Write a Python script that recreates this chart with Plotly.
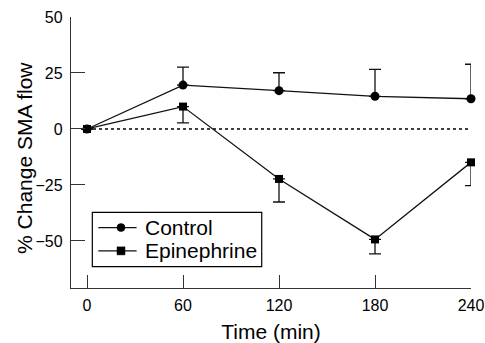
import plotly.graph_objects as go

times = [0, 60, 120, 180, 240]
control = [0, 19.6, 17.1, 14.6, 13.5]
control_err = [0, 8.0, 8.0, 12.0, 15.4]
epi = [0, 10.0, -22.3, -49.3, -14.9]
epi_err = [0, 7.3, 10.3, 6.5, 10.4]
x_ticks = [0, 60, 120, 180, 240]
y_ticks = [-50, -25, 0, 25, 50]
series_names = ["Control", "Epinephrine"]

FONT = "Liberation Sans, Arial, sans-serif"
INK = "#111"

fig = go.Figure()
fig.add_trace(go.Scatter(
    x=[times[0], times[-1]], y=[0, 0], mode="lines",
    line=dict(color="black", width=1.5, dash="dot"),
    showlegend=False, hoverinfo="skip", cliponaxis=False))
fig.add_trace(go.Scatter(
    x=times, y=control, name=series_names[0], mode="lines+markers",
    line=dict(color=INK, width=1.3), cliponaxis=False, showlegend=False,
    marker=dict(symbol="circle", size=9, color="black"),
    error_y=dict(type="data", symmetric=False, array=control_err,
                 arrayminus=[0]*5, color=INK, thickness=1.3, width=6)))
fig.add_trace(go.Scatter(
    x=times, y=epi, name=series_names[1], mode="lines+markers",
    line=dict(color=INK, width=1.3), cliponaxis=False, showlegend=False,
    marker=dict(symbol="square", size=8, color="black"),
    error_y=dict(type="data", symmetric=False, array=[0]*5,
                 arrayminus=epi_err, color=INK, thickness=1.3, width=6)))

# manual legend (paper coordinates)
shapes = [
    dict(type="rect", xref="paper", yref="paper", x0=0.0533, x1=0.4768,
         y0=0.0786, y1=0.2793, line=dict(color="black", width=1.2),
         fillcolor="white", layer="above"),
]
annotations = []
rows_y = [0.2230, 0.1370]
for name, yy, sym in zip(series_names, rows_y, ["circle", "rect"]):
    shapes.append(dict(type="line", xref="paper", yref="paper",
                       x0=0.0683, x1=0.164, y0=yy, y1=yy,
                       line=dict(color=INK, width=1.3), layer="above"))
    shapes.append(dict(type=sym, xref="paper", yref="paper",
                       xsizemode="pixel", ysizemode="pixel",
                       xanchor=0.125, yanchor=yy,
                       x0=-4, x1=4, y0=-4, y1=4,
                       line=dict(color="black", width=0.5),
                       fillcolor="black", layer="above"))
    annotations.append(dict(text=name, xref="paper", yref="paper",
                            x=0.182, y=yy, xanchor="left", yanchor="middle",
                            showarrow=False, borderpad=0,
                            font=dict(size=21, family=FONT)))

# y-axis title
annotations.append(dict(text="% Change SMA flow", xref="paper", yref="paper",
                        x=-0.115, y=0.48, xanchor="center", yanchor="middle",
                        textangle=-90, showarrow=False, borderpad=0,
                        font=dict(size=21, family=FONT)))

fig.update_layout(
    width=485, height=343,
    margin=dict(l=71, r=14, t=17, b=55),
    plot_bgcolor="white", paper_bgcolor="white",
    font=dict(family=FONT, color="black", size=16),
    showlegend=False,
    shapes=shapes, annotations=annotations,
    xaxis=dict(range=[-10, 240], tickvals=x_ticks, ticks="inside", ticklen=13,
               tickcolor="#333", tickwidth=1.3, showline=True, linecolor="#333",
               linewidth=1.3, showgrid=False, zeroline=False, automargin=False,
               ticklabelstandoff=3,
               title=dict(text="Time (min)", font=dict(size=21), standoff=11),
               tickfont=dict(size=16)),
    yaxis=dict(range=[-71, 50], tickvals=y_ticks, ticks="inside", ticklen=14,
               tickcolor="#333", tickwidth=1.3, showline=True, linecolor="#333",
               linewidth=1.3, showgrid=False, zeroline=False, automargin=False,
               ticklabelstandoff=4,
               tickfont=dict(size=16)),
)
fig.write_html("out.html")
